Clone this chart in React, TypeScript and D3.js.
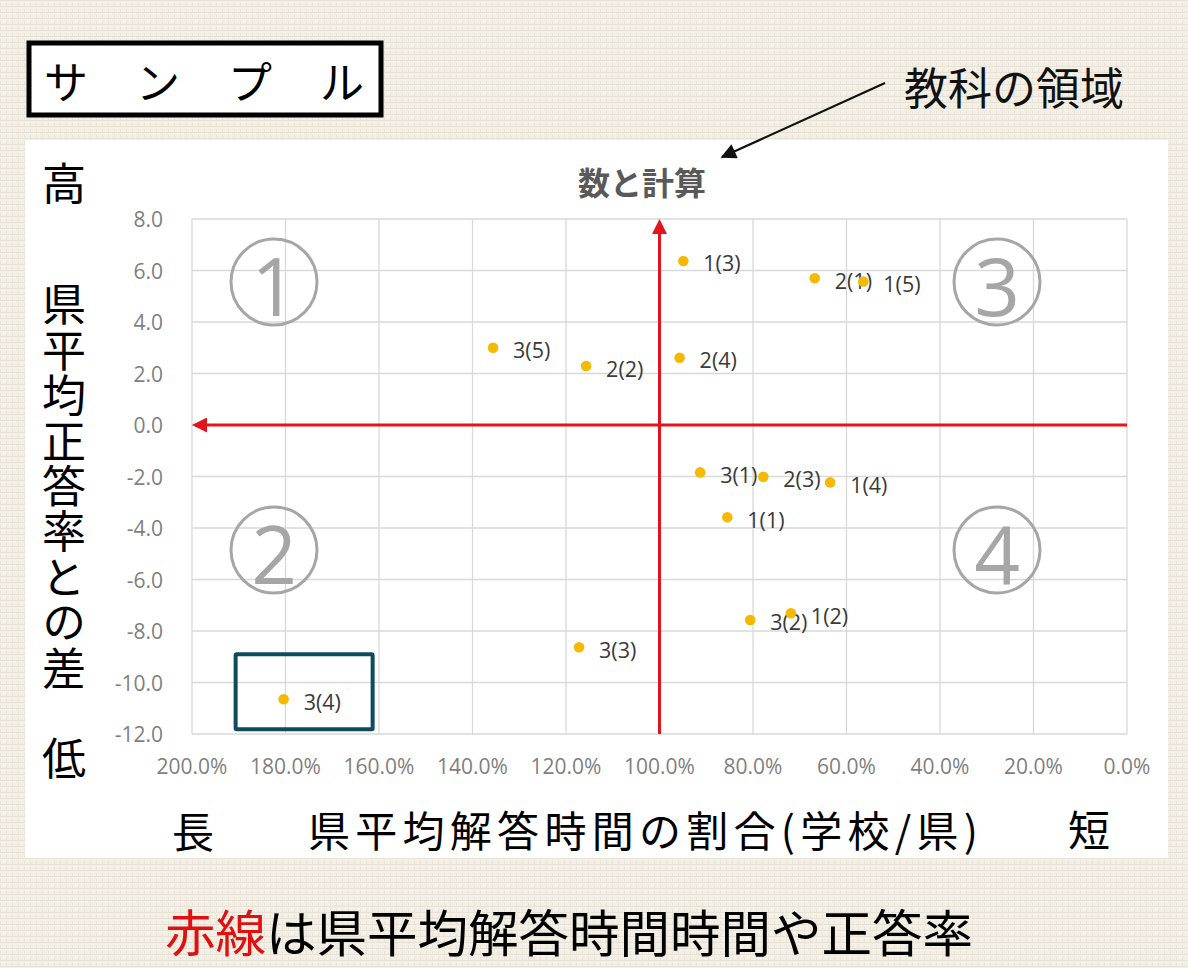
import React from "react";
import * as d3 from "d3";

// Quadrant chart: time ratio (school / prefecture) vs. difference from prefecture mean score
const labels = ["1(1)", "1(2)", "1(3)", "1(4)", "1(5)", "2(1)", "2(2)", "2(3)", "2(4)", "3(1)", "3(2)", "3(3)", "3(4)", "3(5)"];
const timeRatio = [85.5, 71.9, 94.9, 63.5, 56.4, 66.8, 115.7, 77.8, 95.7, 91.3, 80.6, 117.2, 180.4, 135.6];
const scoreDiff = [-3.58, -7.31, 6.37, -2.23, 5.57, 5.7, 2.29, -2.01, 2.61, -1.84, -7.57, -8.63, -10.65, 3.0];

const xTicks = [200, 180, 160, 140, 120, 100, 80, 60, 40, 20, 0];
const yTicks = [8, 6, 4, 2, 0, -2, -4, -6, -8, -10, -12];
const highlighted = "3(4)";

const W = 1188;
const H = 968;
const JP = "'Noto Sans CJK JP', 'Noto Sans', sans-serif";
const NUM = "'Open Sans', 'Noto Sans', sans-serif";

const x = d3.scaleLinear().domain([200, 0]).range([192, 1127]);
const y = d3.scaleLinear().domain([-12, 8]).range([734, 219]);
// plain hyphen for negative numbers, as in spreadsheet axes
const fmt = d3.formatLocale({ decimal: ".", thousands: ",", grouping: [3], currency: ["", ""], minus: "-" }).format(".1f");

const sampleChars = "サンプル".split("");

const quadrants = [
  { n: "1", cx: 274, cy: 282 },
  { n: "2", cx: 274, cy: 550 },
  { n: "3", cx: 997, cy: 282 },
  { n: "4", cx: 997, cy: 550 },
];

export default function App() {
  const red = "#e3141b";
  const hi = labels.indexOf(highlighted);
  const hx = x(timeRatio[hi]);
  const hy = y(scoreDiff[hi]);

  return (
    <svg
      width={W}
      height={H}
      viewBox={`0 0 ${W} ${H}`}
      style={{ position: "absolute", left: 0, top: 0, display: "block" }}
    >
      <defs>
        <pattern id="linen" width="6" height="6" patternUnits="userSpaceOnUse">
          <rect width="6" height="6" fill="#f3efe6" />
          <rect x="0" y="0" width="6" height="1" fill="#e8e2d4" />
          <rect x="0" y="3" width="1" height="3" fill="#eae4d7" />
          <rect x="3" y="1" width="1" height="2" fill="#f8f5ee" />
        </pattern>
        <marker id="redHead" viewBox="0 0 10 10" refX="8" refY="5" markerWidth="5" markerHeight="5" orient="auto">
          <path d="M0,0 L10,5 L0,10 Z" fill={red} />
        </marker>
        <marker id="blackHead" viewBox="0 0 10 10" refX="9" refY="5" markerWidth="8" markerHeight="7" orient="auto">
          <path d="M0,0 L10,5 L0,10 Z" fill="#111" />
        </marker>
      </defs>

      {/* page background and white chart panel */}
      <rect width={W} height={H} fill="url(#linen)" />
      <rect x={25} y={140} width={1143} height={718} fill="#ffffff" />

      {/* sample stamp */}
      <rect x={29} y={43} width={352} height={72} fill="#ffffff" stroke="#000" strokeWidth={5} />
      {sampleChars.map((c, i) => (
        <text key={c} x={66 + i * 92} y={80} fontFamily={JP} fontSize={44} textAnchor="middle" dominantBaseline="central" fill="#000">
          {c}
        </text>
      ))}

      {/* subject annotation */}
      <text x={1014} y={86} fontFamily={JP} fontSize={44} textAnchor="middle" dominantBaseline="central" fill="#111">
        教科の領域
      </text>
      <line x1={885} y1={83} x2={722} y2={157} stroke="#111" strokeWidth={2.2} markerEnd="url(#blackHead)" />

      {/* chart title */}
      <text x={642} y={181} fontFamily={JP} fontSize={32} fontWeight={700} textAnchor="middle" dominantBaseline="central" fill="#595959">
        数と計算
      </text>

      {/* gridlines */}
      {xTicks.map((t) => (
        <line key={`gx${t}`} x1={x(t)} x2={x(t)} y1={y(8)} y2={y(-12)} stroke="#d9d9d9" strokeWidth={1.3} />
      ))}
      {yTicks.map((t) => (
        <line key={`gy${t}`} x1={x(200)} x2={x(0)} y1={y(t)} y2={y(t)} stroke="#d9d9d9" strokeWidth={1.3} />
      ))}

      {/* tick labels */}
      {yTicks.map((t) => (
        <text key={`ty${t}`} x={163} y={y(t)} fontFamily={NUM} fontSize={21} textAnchor="end" dominantBaseline="central" fill="#7f7f7f">
          {fmt(t)}
        </text>
      ))}
      {xTicks.map((t) => (
        <text key={`tx${t}`} x={x(t)} y={766} fontFamily={NUM} fontSize={21} textAnchor="middle" dominantBaseline="central" fill="#7f7f7f">
          {fmt(t) + "%"}
        </text>
      ))}

      {/* quadrant numbers */}
      {quadrants.map((q) => (
        <g key={q.n}>
          <circle cx={q.cx} cy={q.cy} r={43} fill="none" stroke="#a6a6a6" strokeWidth={3} />
          <text x={q.cx} y={q.cy + 2} fontFamily={NUM} fontSize={80} textAnchor="middle" dominantBaseline="central" fill="#a6a6a6">
            {q.n}
          </text>
        </g>
      ))}

      {/* reference lines at the prefecture averages */}
      <line x1={x(0)} y1={y(0)} x2={x(200) + 3} y2={y(0)} stroke={red} strokeWidth={3} markerEnd="url(#redHead)" />
      <line x1={x(100)} y1={y(-12)} x2={x(100)} y2={y(8) + 3} stroke={red} strokeWidth={3} markerEnd="url(#redHead)" />

      {/* point labels */}
      {labels.map((l, i) => (
        <text key={`l${l}`} x={x(timeRatio[i]) + 20} y={y(scoreDiff[i]) + 2} fontFamily={NUM} fontSize={21.5} dominantBaseline="central" fill="#3a3a3a">
          {l}
        </text>
      ))}

      {/* points */}
      {labels.map((l, i) => (
        <circle key={`p${l}`} cx={x(timeRatio[i])} cy={y(scoreDiff[i])} r={5.3} fill="#f7b900" />
      ))}

      {/* highlight box */}
      <rect x={hx - 48} y={hy - 45} width={137} height={75} fill="none" stroke="#0f4a5e" strokeWidth={4} rx={1} />

      {/* axis captions */}
      <text x={64} y={181} fontFamily={JP} fontSize={44} textAnchor="middle" dominantBaseline="central" fill="#000">
        高
      </text>
      <text
        x={64}
        y={487}
        fontFamily={JP}
        fontSize={44}
        textAnchor="middle"
        fill="#000"
        style={{ writingMode: "vertical-rl", letterSpacing: "1.4px" }}
      >
        県平均正答率との差
      </text>
      <text x={64} y={756} fontFamily={JP} fontSize={44} textAnchor="middle" dominantBaseline="central" fill="#000">
        低
      </text>

      <text x={193} y={829} fontFamily={JP} fontSize={42} textAnchor="middle" dominantBaseline="central" fill="#000">
        長
      </text>
      <text
        x={643}
        y={828}
        fontFamily={JP}
        fontSize={42}
        textAnchor="middle"
        dominantBaseline="central"
        fill="#000"
        textLength={670}
        lengthAdjust="spacing"
      >
        県平均解答時間の割合(学校/県)
      </text>
      <text x={1089} y={827} fontFamily={JP} fontSize={42} textAnchor="middle" dominantBaseline="central" fill="#000">
        短
      </text>

      {/* footnote */}
      <text x={165} y={930} fontFamily={JP} fontSize={50.5} dominantBaseline="central" fill="#000">
        <tspan fill="#e01010">赤線</tspan>
        <tspan>は県平均解答時間時間や正答率</tspan>
      </text>
    </svg>
  );
}
